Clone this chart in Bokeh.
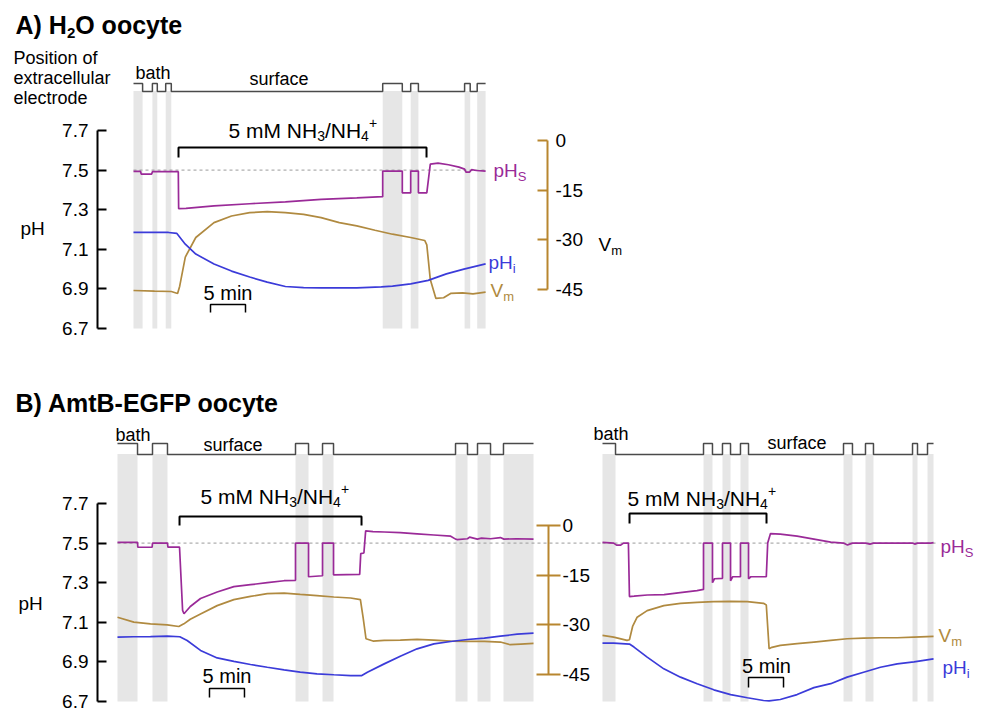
from bokeh.plotting import figure
from bokeh.models import Range1d, LinearAxis, FixedTicker, PrintfTickFormatter
from bokeh.core.properties import value
from bokeh.embed import file_html
from bokeh.resources import INLINE

# ------------------------------------------------------------------ data
# time in minutes from the start of each record, pH units, Vm in mV
PH_TICKS = [6.7, 6.9, 7.1, 7.3, 7.5, 7.7]
VM_TICKS = [-45, -30, -15, 0]
PH_BATH = 7.5
SCALE_MIN = 5

# ---- Panel A : H2O oocyte
A_end = 50.3
A_bath = [(0.0, 1.3), (2.7, 3.4), (4.6, 5.4), (35.6, 38.4), (39.6, 40.7), (47.3, 48.1), (49.1, 50.3)]
A_nh3 = (6.43, 41.86)
A_scale_start = 11.0
A_phs_t = [0, 1.0, 1.1, 2.6, 2.7, 6.4, 6.45, 7.5, 11.5, 16.6, 21.7, 26.8, 31.9, 35.6, 35.6, 38.4, 38.4,
           39.6, 39.6, 40.7, 40.7, 41.9, 42.4, 43.5, 45.0, 46.5, 47.3, 47.5, 48.0, 48.3, 49.0, 50.3]
A_phs = [7.494, 7.494, 7.48, 7.48, 7.492, 7.492, 7.305, 7.307, 7.319, 7.33, 7.34, 7.352, 7.36, 7.366, 7.495,
         7.495, 7.385, 7.385, 7.495, 7.495, 7.385, 7.385, 7.53, 7.535, 7.527, 7.515, 7.505, 7.49, 7.49, 7.502,
         7.498, 7.495]
A_vm_t = [0, 3.0, 5.4, 6.3, 6.6, 7.4, 8.9, 11.5, 14.0, 16.6, 19.1, 21.7, 24.3, 26.8, 29.4, 31.9, 34.5, 37.0,
          39.6, 41.6, 41.9, 42.4, 43.2, 44.3, 45.3, 47.0, 48.5, 50.3]
A_vm = [-45.3, -45.5, -45.6, -46.2, -44.0, -35.2, -29.3, -24.8, -22.8, -21.8, -21.5, -21.8, -22.3, -23.3,
        -24.8, -25.8, -27.1, -28.3, -29.3, -30.2, -31.5, -42.0, -47.7, -47.5, -46.2, -46.0, -46.3, -45.8]
A_phi_t = [0, 5.0, 6.2, 7.4, 8.9, 11.5, 14.0, 16.6, 19.1, 21.7, 24.3, 26.8, 31.9, 35.4, 37.0, 39.6, 42.1,
           44.7, 47.2, 50.3]
A_phi = [7.185, 7.185, 7.18, 7.126, 7.076, 7.026, 6.99, 6.96, 6.934, 6.912, 6.906, 6.905, 6.905, 6.91,
         6.914, 6.925, 6.943, 6.976, 7.0, 7.026]

# ---- Panel B, left record : AmtB-EGFP oocyte
B1_end = 59.43
B1_bath = [(0.0, 2.86), (5.0, 7.14), (25.43, 27.29), (29.29, 30.86), (48.29, 50.0), (51.43, 53.29),
           (55.14, 59.43)]
B1_nh3 = (8.86, 34.86)
B1_scale_start = 13.14
B1_phs_t = [0, 2.86, 2.9, 4.95, 5.0, 7.14, 7.2, 8.86, 9.3, 9.5, 10.4, 11.86, 14.24, 16.62, 19.0, 21.4, 23.8,
            25.43, 25.43, 27.29, 27.29, 29.29, 29.29, 30.86, 30.86, 34.6, 34.75, 35.2, 35.45, 36.5, 38.1, 40.4,
            42.8, 45.2, 47.6, 48.3, 48.5, 50.0, 50.3, 51.4, 52.0, 53.3, 54.7, 55.2, 57.0, 59.43]
B1_phs = [7.504, 7.504, 7.479, 7.479, 7.5, 7.5, 7.48, 7.48, 7.16, 7.143, 7.18, 7.22, 7.253, 7.28, 7.29, 7.30,
          7.31, 7.312, 7.5, 7.5, 7.33, 7.335, 7.5, 7.5, 7.34, 7.342, 7.447, 7.45, 7.562, 7.558, 7.556, 7.553,
          7.547, 7.541, 7.535, 7.52, 7.518, 7.522, 7.53, 7.52, 7.525, 7.522, 7.528, 7.52, 7.522, 7.52]
B1_vm_t = [0, 2.33, 4.71, 7.1, 8.76, 9.48, 10.4, 11.86, 14.24, 16.62, 19.0, 21.4, 23.8, 26.1, 28.5, 30.9,
           33.3, 34.7, 35.1, 35.5, 36.5, 38.1, 40.4, 42.8, 45.2, 47.6, 50.0, 52.4, 54.7, 56.1, 57.6, 59.43]
B1_vm = [-27.7, -29.2, -29.7, -30.0, -30.5, -29.7, -28.3, -26.7, -24.2, -22.4, -21.4, -20.6, -20.4, -20.8,
         -21.2, -21.6, -21.9, -22.4, -28.0, -34.2, -34.9, -34.7, -34.6, -34.4, -34.6, -34.9, -35.0, -35.0,
         -35.2, -36.0, -35.8, -35.6]
B1_phi_t = [0, 2.33, 4.71, 7.1, 8.9, 9.95, 11.86, 14.24, 16.62, 19.0, 21.4, 23.8, 26.1, 28.5, 30.9, 33.3,
            34.9, 35.7, 38.1, 40.4, 42.8, 45.2, 47.6, 50.0, 52.4, 54.7, 57.1, 59.43]
B1_phi = [7.025, 7.027, 7.028, 7.03, 7.027, 7.008, 6.958, 6.92, 6.903, 6.887, 6.873, 6.86, 6.848, 6.84,
          6.835, 6.831, 6.831, 6.848, 6.89, 6.929, 6.966, 6.991, 7.003, 7.013, 7.02, 7.03, 7.04, 7.045]

# ---- Panel B, right record
B2_end = 47.29
B2_bath = [(0.0, 1.86), (14.43, 15.71), (17.14, 18.29), (19.71, 20.86), (34.43, 35.71), (37.57, 38.71),
           (44.29, 45.0), (46.43, 47.29)]
B2_nh3 = (3.86, 23.43)
B2_scale_start = 20.86
B2_phs_t = [0, 1.6, 2.0, 2.6, 3.0, 3.7, 3.85, 4.5, 6.4, 8.8, 11.1, 13.5, 14.43, 14.43, 15.71, 15.71, 16.0,
            17.14, 17.14, 18.29, 18.29, 18.6, 19.71, 19.71, 20.86, 20.86, 21.2, 23.4, 23.6, 24.0, 25.4, 27.8,
            30.2, 32.6, 34.4, 35.0, 35.7, 37.6, 38.2, 38.7, 44.3, 44.6, 45.0, 46.4, 46.9, 47.29]
B2_phs = [7.504, 7.50, 7.49, 7.49, 7.50, 7.50, 7.23, 7.232, 7.238, 7.24, 7.25, 7.26, 7.266, 7.5, 7.5, 7.30,
          7.32, 7.322, 7.5, 7.5, 7.31, 7.33, 7.33, 7.5, 7.5, 7.32, 7.33, 7.33, 7.50, 7.548, 7.545, 7.535,
          7.52, 7.505, 7.5, 7.49, 7.5, 7.5, 7.495, 7.5, 7.5, 7.495, 7.5, 7.5, 7.5, 7.502]
B2_vm_t = [0, 1.6, 3.5, 3.85, 4.3, 4.95, 6.38, 8.76, 11.14, 13.52, 15.9, 18.3, 20.7, 23.0, 23.4, 23.8, 24.2,
           25.4, 27.8, 30.2, 32.6, 34.95, 37.3, 39.7, 42.1, 44.5, 47.29]
B2_vm = [-33.2, -33.7, -34.7, -34.5, -30.5, -27.7, -25.7, -24.2, -23.5, -23.2, -23.0, -22.9, -23.0, -23.5,
         -24.0, -37.2, -36.8, -36.2, -35.7, -35.2, -34.7, -34.2, -34.0, -33.9, -33.9, -33.7, -33.5]
B2_phi_t = [0, 1.6, 3.85, 4.5, 6.38, 8.76, 11.14, 13.52, 15.9, 18.3, 20.7, 23.0, 23.8, 25.4, 27.8, 30.2,
            32.6, 34.95, 37.3, 39.7, 42.1, 44.5, 47.29]
B2_phi = [6.995, 6.995, 6.99, 6.975, 6.924, 6.865, 6.823, 6.79, 6.759, 6.735, 6.719, 6.705, 6.703, 6.71,
          6.735, 6.77, 6.79, 6.823, 6.848, 6.873, 6.89, 6.90, 6.915]

# ------------------------------------------------------------------ style
W, H = 982, 711
OFF = 0
FONT = "Liberation Sans"
PURPLE = "#9a2a98"
BLUE = "#3b3bd9"
GOLD = "#b08a40"
GOLD_AX = "#b8862f"
BAND = "#e6e6e6"
ELEC = "#4a4a4a"

AR = {' ': 278, '+': 584, '-': 333, '/': 278, '(': 333, ')': 333, '.': 278}
for _c in '0123456789':
    AR[_c] = 556
AR.update({'A': 667, 'B': 667, 'E': 667, 'F': 611, 'G': 778, 'H': 722, 'M': 833, 'N': 722, 'O': 778,
           'P': 667, 'S': 667, 'V': 667, 'a': 556, 'b': 556, 'c': 500, 'd': 556, 'e': 556, 'f': 278,
           'h': 556, 'i': 222, 'l': 222, 'm': 833, 'n': 556, 'o': 556, 'p': 556, 'r': 333, 's': 500,
           't': 278, 'u': 556, 'x': 500, 'y': 500})
ARB = dict(AR)
ARB.update({'A': 722, 'B': 722, 'm': 889, 'o': 611, 't': 333, 'y': 556, 'c': 556})


def tw(s, size, bold=False):
    tbl = ARB if bold else AR
    return sum(tbl.get(c, 556) for c in s) * size / 1000.0


def xr(val, ref_px, k):
    fx = ref_px - OFF
    return Range1d(start=val - fx / k, end=val + (W - fx) / k)


def yr(val, ref_py, k):
    fy = ref_py - OFF
    return Range1d(start=val - (H - fy) / k, end=val + fy / k)


p = figure(width=W, height=H, x_range=xr(0, 133, 7), y_range=yr(7.7, 130, 198),
           output_backend="svg", toolbar_location=None, x_axis_location=None, y_axis_location=None,
           min_border=0, outline_line_color=None, background_fill_color="white",
           border_fill_color="white")
p.extra_x_ranges = {"tB1": xr(0, 117, 7), "tB2": xr(0, 602, 7)}
p.extra_y_ranges = {"vmA": yr(0, 140, 149 / 45), "phB": yr(7.7, 503, 198), "vmB": yr(0, 525, 149 / 45),
                    "posA": yr(0, 91, 8), "posB": yr(0, 454, 11)}
p.grid.visible = False


def rich(x, y, parts, color="black", xn="default", yn="default", bold=False):
    off = 0.0
    for s, size, dy in parts:
        p.text(x=[x], y=[y], text=[s], x_offset=off, y_offset=dy, text_font=value(FONT),
               text_font_size=value(f"{size}px"), text_font_style="bold" if bold else "normal",
               text_color=color, text_align="left", text_baseline="middle",
               x_range_name=xn, y_range_name=yn)
        off += tw(s, size, bold)


def plain(x, y, s, size, color="black", xn="default", yn="default", align="left"):
    p.text(x=[x], y=[y], text=[s], text_font=value(FONT), text_font_size=value(f"{size}px"),
           text_color=color, text_align=align, text_baseline="middle", x_range_name=xn, y_range_name=yn)


def electrode(bath, t_end):
    xs, ys, t = [], [], 0.0
    for a, b in bath:
        if a > t:
            xs += [t, a]
            ys += [0, 0]
        xs += [a, b]
        ys += [1, 1]
        t = b
    if t < t_end:
        xs += [t, t_end]
        ys += [0, 0]
    return xs, ys


def panel(bath, t_end, nh3, scale_start, phs_t, phs, vm_t, vm, phi_t, phi, xn, yn, vmn, posn,
          band_top, dash_end, br_y, br_tick, sc_y, sc_tick):
    p.quad(left=[a for a, b in bath], right=[b for a, b in bath], bottom=PH_TICKS[0], top=band_top,
           fill_color=BAND, line_color=None, x_range_name=xn, y_range_name=yn)
    ex, ey = electrode(bath, t_end)
    p.line(ex, ey, line_color=ELEC, line_width=1.5, x_range_name=xn, y_range_name=posn)
    p.line([0, dash_end], [PH_BATH, PH_BATH], line_color="#9a9a9a", line_width=1, line_dash="3 3",
           x_range_name=xn, y_range_name=yn)
    p.line(vm_t, vm, line_color=GOLD, line_width=1.7, x_range_name=xn, y_range_name=vmn)
    p.line(phi_t, phi, line_color=BLUE, line_width=1.7, x_range_name=xn, y_range_name=yn)
    p.line(phs_t, phs, line_color=PURPLE, line_width=1.7, x_range_name=xn, y_range_name=yn)
    a, b = nh3
    p.line([a, a, b, b], [br_tick, br_y, br_y, br_tick], line_color="black", line_width=2,
           x_range_name=xn, y_range_name=yn)
    s = scale_start
    p.line([s, s, s + SCALE_MIN, s + SCALE_MIN], [sc_tick, sc_y, sc_y, sc_tick], line_color="black",
           line_width=1.5, x_range_name=xn, y_range_name=yn)


panel(A_bath, A_end, A_nh3, A_scale_start, A_phs_t, A_phs, A_vm_t, A_vm, A_phi_t, A_phi,
      "default", "default", "vmA", "posA", 7.9, A_end, 7.614, 7.564, 6.821, 6.781)
panel(B1_bath, B1_end, B1_nh3, B1_scale_start, B1_phs_t, B1_phs, B1_vm_t, B1_vm, B1_phi_t, B1_phi,
      "tB1", "phB", "vmB", "posB", 7.95, 69.0, 7.634, 7.589, 6.766, 6.720)
panel(B2_bath, B2_end, B2_nh3, B2_scale_start, B2_phs_t, B2_phs, B2_vm_t, B2_vm, B2_phi_t, B2_phi,
      "tB2", "phB", "vmB", "posB", 7.95, 48.0, 7.6495, 7.599, 6.821, 6.771)


# ------------------------------------------------------------------ axes
def ph_axis(loc, xn, yn):
    ax = LinearAxis(x_range_name=xn, y_range_name=yn, fixed_location=loc, bounds=(6.7, 7.7),
                    ticker=FixedTicker(ticks=PH_TICKS), formatter=PrintfTickFormatter(format="%.1f"),
                    axis_line_width=2, axis_line_color="black", major_tick_line_width=2,
                    major_tick_line_color="black", major_tick_in=9, major_tick_out=0,
                    minor_tick_line_color=None, major_label_standoff=9,
                    major_label_text_font=FONT, major_label_text_font_size="19px",
                    major_label_text_color="black")
    p.add_layout(ax, "left")


def vm_axis(loc, xn, yn, t_in, t_out, standoff, overrides):
    ax = LinearAxis(x_range_name=xn, y_range_name=yn, fixed_location=loc, bounds=(-45, 0),
                    ticker=FixedTicker(ticks=VM_TICKS), formatter=PrintfTickFormatter(format="%d"),
                    axis_line_width=2, axis_line_color=GOLD_AX, major_tick_line_width=2,
                    major_tick_line_color=GOLD_AX, major_tick_in=t_in, major_tick_out=t_out,
                    minor_tick_line_color=None, major_label_standoff=standoff,
                    major_label_text_font=FONT, major_label_text_font_size="19px",
                    major_label_text_color="black", major_label_overrides=overrides)
    p.add_layout(ax, "right")


ph_axis(-5.1429, "default", "default")
vm_axis(59.143, "default", "vmA", 10, 0, 8, {0: "  0"})
ph_axis(-2.857, "tB1", "phB")
vm_axis(61.571, "tB1", "vmB", 12, 12, 2, {})

# ------------------------------------------------------------------ texts
NH3_PARTS = [("5 mM NH", 21, 0), ("3", 14, 6), ("/NH", 21, 0), ("4", 14, 6), ("+", 14, -7)]
# panel A
rich(-16.857, 8.2341, [("A) H", 25, 0), ("2", 15, 8), ("O oocyte", 25, 0)], bold=True)
plain(-17.143, 8.0652, "Position of", 18)
plain(-17.143, 7.9641, "extracellular", 18)
plain(-17.143, 7.8631, "electrode", 18)
plain(0.286, 7.9894, "bath", 18)
plain(16.571, 7.9591, "surface", 18)
plain(-16.143, 7.2051, "pH", 19)
rich(66.429, 7.1242, [("V", 19, 0), ("m", 13, 6)])
rich(51.429, 7.498, [("pH", 19, 0), ("S", 13, 6)], color=PURPLE)
rich(50.714, 7.0333, [("pH", 19, 0), ("i", 13, 6)], color=BLUE)
rich(51.0, 6.8919, [("V", 19, 0), ("m", 13, 6)], color=GOLD)
rich(13.571, 7.7018, NH3_PARTS)
plain(13.5, 6.8818, "5 min", 20, align="center")

# panel B left
rich(-14.571, 8.2088, [("B) AmtB-EGFP oocyte", 25, 0)], xn="tB1", yn="phB", bold=True)
plain(-0.286, 8.0449, "bath", 18, xn="tB1", yn="phB")
plain(12.286, 7.9944, "surface", 18, xn="tB1", yn="phB")
plain(-14.143, 7.1949, "pH", 19, xn="tB1", yn="phB")
rich(11.857, 7.7371, NH3_PARTS, xn="tB1", yn="phB")
plain(15.643, 6.8263, "5 min", 20, xn="tB1", yn="phB", align="center")

# panel B right
plain(-1.286, 8.05, "bath", 18, xn="tB2", yn="phB")
plain(23.571, 8.0045, "surface", 18, xn="tB2", yn="phB")
rich(3.571, 7.727, NH3_PARTS, xn="tB2", yn="phB")
plain(23.429, 6.8768, "5 min", 20, xn="tB2", yn="phB", align="center")
rich(48.29, 7.4828, [("pH", 19, 0), ("S", 13, 6)], color=PURPLE, xn="tB2", yn="phB")
rich(48.0, 7.0333, [("V", 19, 0), ("m", 13, 6)], color=GOLD, xn="tB2", yn="phB")
rich(48.57, 6.8717, [("pH", 19, 0), ("i", 13, 6)], color=BLUE, xn="tB2", yn="phB")

open("out.html", "w").write(file_html(p, INLINE))
